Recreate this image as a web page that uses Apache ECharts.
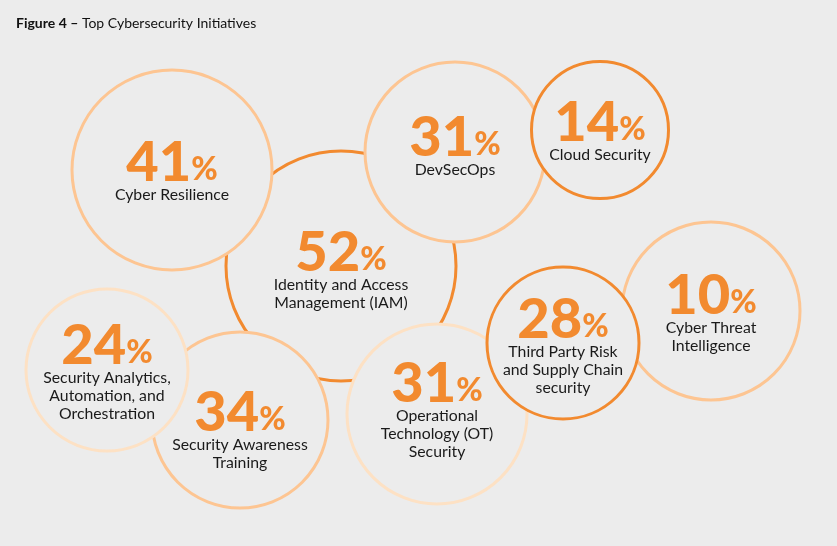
<!DOCTYPE html>
<html>
<head>
<meta charset="utf-8">
<script src="https://cdn.jsdelivr.net/npm/echarts@6/dist/echarts.min.js"></script>
<style>
  html, body { margin: 0; padding: 0; background: #ececec; }
  #chart { width: 837px; height: 546px; }
</style>
</head>
<body>
<div id="chart"></div>
<script>
var myChart = echarts.init(document.getElementById('chart'));

// 各项举措及占比（按绘制先后排列，后画的在上层）
var initiatives = [
    'Identity and Access\nManagement (IAM)',
    'Cyber Resilience',
    'DevSecOps',
    'Cloud Security',
    'Security Awareness\nTraining',
    'Security Analytics,\nAutomation, and\nOrchestration',
    'Operational\nTechnology (OT)\nSecurity',
    'Cyber Threat\nIntelligence',
    'Third Party Risk\nand Supply Chain\nsecurity'
];
var percents = [52, 41, 31, 14, 34, 24, 31, 10, 28];

// 气泡布局：圆心（像素坐标系）、直径、文字上下微调
var bubbleX = [341, 172, 455, 600, 240, 107, 437, 711, 563];
var bubbleY = [266, 170, 152, 130, 420, 370, 414, 311, 343];
var bubbleD = [230, 200, 180, 137, 176, 162, 180, 178, 152];
var textShift = [5, 2, -5, 2, 11, 3, -3, 3, 4];
var ringTone = ['dark', 'mid', 'mid', 'dark', 'mid', 'pale', 'pale', 'mid', 'dark'];

var ringColor = { dark: '#f28a2f', mid: '#fdc592', pale: '#fde1c4' };

var data = initiatives.map(function (name, i) {
    return {
        name: name,
        value: [bubbleX[i], bubbleY[i], percents[i]],
        symbolSize: bubbleD[i],
        itemStyle: { borderColor: ringColor[ringTone[i]] },
        label: { offset: [0, textShift[i]] }
    };
});

option = {
    backgroundColor: '#ececec',
    title: {
        left: 16,
        top: 16,
        padding: 0,
        text: '{b|Figure 4 –} Top Cybersecurity Initiatives',
        textStyle: {
            fontFamily: 'Lato',
            fontSize: 14,
            fontWeight: 'normal',
            color: '#111',
            rich: {
                b: { fontFamily: 'Lato', fontSize: 14, fontWeight: 'bold', color: '#111' }
            }
        }
    },
    grid: { left: 0, right: 0, top: 0, bottom: 0 },
    xAxis: { type: 'value', min: 0, max: 837, show: false },
    yAxis: { type: 'value', min: 0, max: 546, inverse: true, show: false },
    series: [
        {
            type: 'scatter',
            symbol: 'circle',
            itemStyle: {
                color: '#ececec',
                borderWidth: 3,
                opacity: 1
            },
            emphasis: { disabled: true },
            label: {
                show: true,
                position: 'inside',
                align: 'center',
                formatter: function (p) {
                    return '{num|' + p.value[2] + '}{pct|%}\n{name|' + p.name.split('\n').join('}\n{name|') + '}';
                },
                rich: {
                    num: {
                        fontFamily: 'Lato',
                        fontWeight: 900,
                        fontSize: 56,
                        lineHeight: 46,
                        color: '#f28a2f',
                        verticalAlign: 'middle'
                    },
                    pct: {
                        fontFamily: 'Lato',
                        fontWeight: 900,
                        fontSize: 32,
                        lineHeight: 32,
                        color: '#f28a2f',
                        verticalAlign: 'bottom'
                    },
                    name: {
                        fontFamily: 'Lato',
                        fontSize: 15.8,
                        lineHeight: 18,
                        color: '#1a1a1a'
                    }
                }
            },
            data: data
        }
    ]
};

myChart.setOption(option);
</script>
</body>
</html>
